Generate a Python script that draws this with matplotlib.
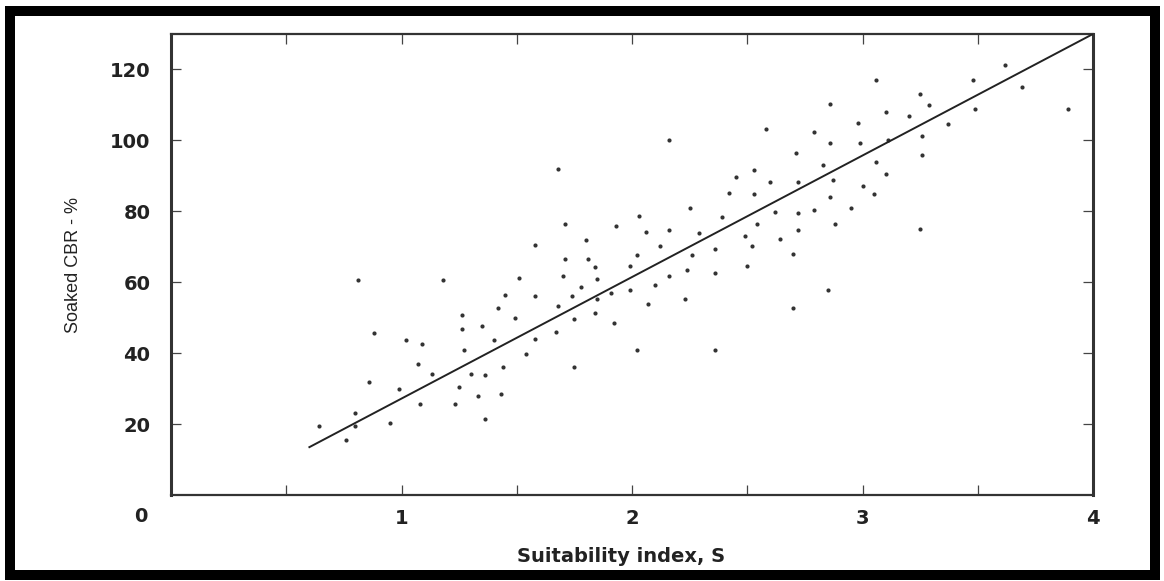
import numpy as np
import matplotlib
matplotlib.use("Agg")
import matplotlib.pyplot as plt
from matplotlib.patches import Rectangle

# suitability index S vs soaked CBR (%)
s_index = [0.81, 1.18, 1.26, 1.26, 1.27, 0.88, 1.02, 1.09, 1.07, 1.13,
           0.86, 0.99, 1.25, 1.08, 1.23, 0.80, 0.80, 0.64, 0.95, 0.76,
           1.71, 1.81, 2.02, 2.26, 1.84, 1.99, 2.24, 2.36, 2.50, 1.51,
           1.70, 1.85, 2.16, 1.78, 2.10, 1.45, 1.58, 1.74, 1.85, 1.91,
           1.99, 2.23, 2.07, 1.42, 1.49, 1.68, 1.75, 1.84, 1.92, 1.35,
           1.40, 1.58, 1.67, 1.54, 1.44, 1.75, 2.02, 2.36, 1.30, 1.36,
           1.33, 1.43, 1.36,
           2.58, 2.16, 1.68, 2.53, 2.45, 2.60, 2.42, 2.53, 2.62, 2.25,
           2.03, 2.39, 1.71, 1.93, 2.06, 2.16, 2.29, 2.54, 2.49, 1.80,
           1.58, 2.12, 2.36, 2.52,
           3.62, 3.48, 3.06, 3.69, 3.25, 3.29, 2.86, 3.89, 3.49, 3.10,
           3.20, 2.98, 3.37, 2.79, 2.86, 2.99, 3.11, 3.26, 2.71, 3.26,
           2.83, 3.06, 3.10, 2.72, 2.87, 3.00, 3.05, 2.86, 2.72, 2.79,
           2.95, 2.72, 2.88, 3.25, 2.64, 2.70, 2.85, 2.70]
cbr = [60.6, 60.6, 50.9, 46.8, 40.9, 45.6, 43.8, 42.5, 36.9, 34.1,
       31.9, 30.0, 30.4, 25.8, 25.8, 23.0, 19.5, 19.4, 20.4, 15.5,
       66.5, 66.5, 67.7, 67.7, 64.2, 64.5, 63.4, 62.6, 64.7, 61.2,
       61.7, 60.8, 61.7, 58.6, 59.2, 56.3, 56.2, 56.2, 55.2, 56.9,
       57.7, 55.3, 54.0, 52.7, 50.0, 53.3, 49.7, 51.4, 48.4, 47.7,
       43.8, 44.0, 46.0, 39.9, 36.1, 36.1, 40.9, 40.9, 34.0, 33.8,
       27.8, 28.5, 21.4,
       103.3, 100.0, 91.8, 91.6, 89.7, 88.4, 85.3, 84.8, 79.9, 80.9,
       78.8, 78.5, 76.4, 75.8, 74.2, 74.7, 74.0, 76.4, 72.9, 71.8,
       70.5, 70.2, 69.4, 70.2,
       121.2, 117.1, 117.1, 115.0, 113.0, 110.1, 110.3, 108.9, 108.8, 108.1,
       107.0, 104.8, 104.7, 102.5, 99.4, 99.4, 100.1, 101.1, 96.4, 96.0,
       93.1, 93.9, 90.4, 88.3, 88.7, 87.1, 85.0, 84.1, 79.4, 80.5,
       80.9, 74.8, 76.4, 75.1, 72.3, 68.1, 57.9, 52.7]

# fitted line end points
fit_x = [0.6, 4.0]
fit_y = [13.5, 130.0]

x_ticks = [1, 2, 3, 4]
y_ticks = [20, 40, 60, 80, 100, 120]

fig = plt.figure(figsize=(11.64, 5.81), dpi=100)
ax = fig.add_axes([0.147, 0.148, 0.792, 0.7935])

ax.scatter(s_index, cbr, s=9, color="#333333", linewidths=0, zorder=3)
ax.plot(fit_x, fit_y, color="#222222", lw=1.4, zorder=4)

ax.set_xlim(0, 4)
ax.set_ylim(0, 130)
ax.set_xticks(x_ticks)
ax.set_xticks([0.5, 1.5, 2.5, 3.5], minor=True)
ax.set_yticks(y_ticks)
ax.set_xticklabels([str(v) for v in x_ticks], fontsize=14, fontweight="bold",
                   family="DejaVu Sans", color="#222222")
ax.set_yticklabels([str(v) for v in y_ticks], fontsize=14, fontweight="bold",
                   family="DejaVu Sans", color="#222222")
ax.tick_params(which="both", direction="in", top=True, right=True,
               length=7, width=0.9, color="#444444")
ax.tick_params(axis="x", pad=10)
ax.tick_params(axis="y", pad=15)

# shared origin label
ax.text(-0.13, -6.2, "0", fontsize=14, fontweight="bold", family="DejaVu Sans",
        color="#222222", ha="center", va="center", clip_on=False)

for side in ["left", "right"]:
    ax.spines[side].set_linewidth(2.2)
for side in ["top", "bottom"]:
    ax.spines[side].set_linewidth(1.6)
for sp in ax.spines.values():
    sp.set_color("#333333")

ax.set_xlabel("Suitability index, S", fontsize=14, fontweight="bold",
              family="DejaVu Sans", color="#222222")
ax.xaxis.set_label_coords(0.488, -0.112)
ax.set_ylabel("Soaked CBR - %", fontsize=13,
              family=["Liberation Sans Narrow", "Liberation Sans", "DejaVu Sans"],
              color="#222222", labelpad=20)

# thick black frame round the whole picture
fig.patches.append(Rectangle((0.0086, 0.0103), 0.9834, 0.9707, transform=fig.transFigure,
                             fill=False, edgecolor="black", linewidth=7.2))

fig.savefig("out.png", dpi=100)
